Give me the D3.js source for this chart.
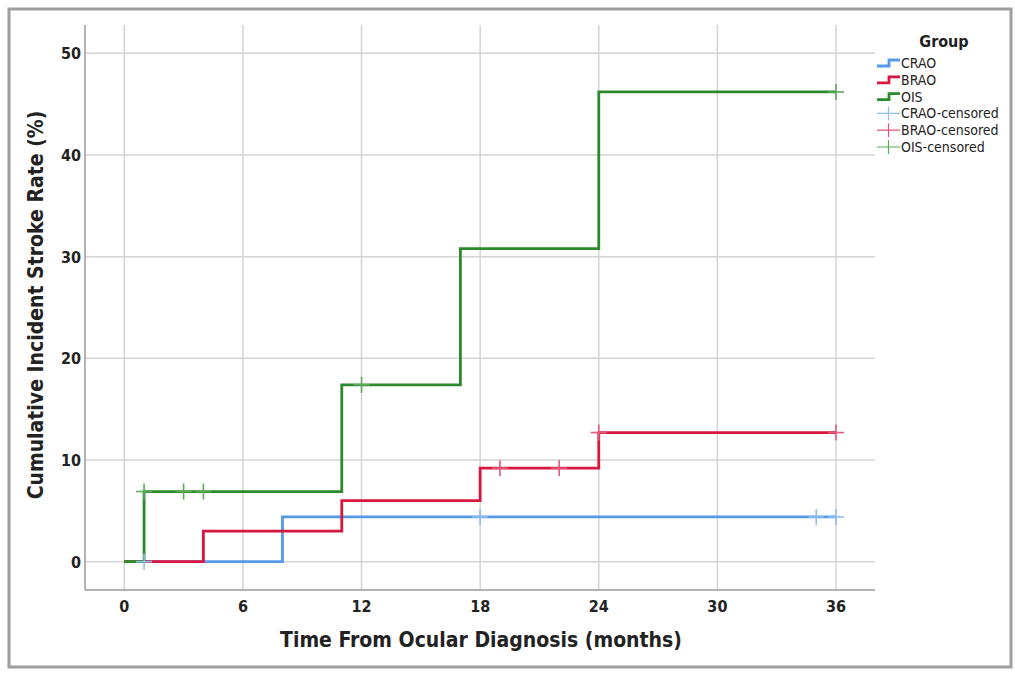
<!DOCTYPE html>
<html>
<head>
<meta charset="utf-8">
<script src="https://cdn.jsdelivr.net/npm/d3@7"></script>
<style>
  body { margin: 0; background: #fff; }
  text { font-family: "DejaVu Sans Condensed", "DejaVu Sans", sans-serif; }
</style>
</head>
<body>
<div id="chart"></div>
<script>
// step data (months, cumulative %)
const craoTimes = [0, 8, 36];
const craoRates = [0, 4.4, 4.4];
const braoTimes = [0, 4, 11, 18, 24, 36];
const braoRates = [0, 3.0, 6.0, 9.2, 12.7, 12.7];
const oisTimes = [0, 1, 11, 17, 24, 36];
const oisRates = [0, 6.9, 17.4, 30.8, 46.2, 46.2];

// censored observations
const craoCensored = [1, 18, 35, 36];
const braoCensored = [19, 22, 24, 36];
const oisCensored = [1, 3, 4, 12, 36];

const xTicks = [0, 6, 12, 18, 24, 30, 36];
const yTicks = [0, 10, 20, 30, 40, 50];

const groups = [
  {name: "CRAO", times: craoTimes, rates: craoRates, cens: craoCensored, color: "#5599e8", light: "#8fbcf0"},
  {name: "BRAO", times: braoTimes, rates: braoRates, cens: braoCensored, color: "#d8173f", light: "#e4587a"},
  {name: "OIS", times: oisTimes, rates: oisRates, cens: oisCensored, color: "#2b8a2b", light: "#5aab5a"}
];

const width = 1015, height = 673;
const plot = {left: 85, right: 875, top: 25, bottom: 590};

let svg = d3.select("#chart").append("svg")
  .attr("width", width)
  .attr("height", height);

// outer frame
svg.append("rect")
  .attr("x", 9).attr("y", 9)
  .attr("width", 1002).attr("height", 658)
  .attr("fill", "none")
  .attr("stroke", "#9e9e9e")
  .attr("stroke-width", 3);

let x = d3.scaleLinear().domain([0, 36]).range([124.3, 836]);
let y = d3.scaleLinear().domain([0, 50]).range([561.7, 53.3]);

// grid
svg.append("g").selectAll("line")
  .data(yTicks)
  .enter().append("line")
  .attr("x1", plot.left).attr("x2", plot.right)
  .attr("y1", d => y(d)).attr("y2", d => y(d))
  .attr("stroke", "#d4d4d4").attr("stroke-width", 1.5);

svg.append("g").selectAll("line")
  .data(xTicks)
  .enter().append("line")
  .attr("x1", d => x(d)).attr("x2", d => x(d))
  .attr("y1", plot.top).attr("y2", plot.bottom)
  .attr("stroke", "#d4d4d4").attr("stroke-width", 1.5);

// axes lines
svg.append("line")
  .attr("x1", plot.left).attr("x2", plot.left)
  .attr("y1", plot.top).attr("y2", plot.bottom)
  .attr("stroke", "#9a9a9a").attr("stroke-width", 1.5);
svg.append("line")
  .attr("x1", plot.left).attr("x2", plot.right)
  .attr("y1", plot.bottom).attr("y2", plot.bottom)
  .attr("stroke", "#9a9a9a").attr("stroke-width", 1.5);

// tick labels
svg.append("g").selectAll("text")
  .data(yTicks)
  .enter().append("text")
  .text(d => d)
  .attr("x", 81).attr("y", d => y(d) + 6)
  .attr("text-anchor", "end")
  .attr("font-size", "16px").attr("font-weight", "bold")
  .attr("fill", "#222");

svg.append("g").selectAll("text")
  .data(xTicks)
  .enter().append("text")
  .text(d => d)
  .attr("x", d => x(d)).attr("y", 612)
  .attr("text-anchor", "middle")
  .attr("font-size", "16px").attr("font-weight", "bold")
  .attr("fill", "#222");

// titles
svg.append("text")
  .text("Time From Ocular Diagnosis (months)")
  .attr("x", 481).attr("y", 647)
  .attr("text-anchor", "middle")
  .attr("font-size", "21px").attr("font-weight", "bold")
  .attr("fill", "#222");

svg.append("text")
  .text("Cumulative Incident Stroke Rate (%)")
  .attr("x", 0).attr("y", 0)
  .attr("transform", "translate(43,305) rotate(-90)")
  .attr("text-anchor", "middle")
  .attr("font-size", "21px").attr("font-weight", "bold")
  .attr("fill", "#222");

// step curves
let stepLine = d3.line()
  .x(d => x(d[0]))
  .y(d => y(d[1]))
  .curve(d3.curveStepAfter);

function rateAt(g, t) {
  let r = 0;
  for (let i = 0; i < g.times.length; i++) {
    if (g.times[i] <= t) r = g.rates[i];
  }
  return r;
}

groups.forEach(function(g) {
  let pts = g.times.map((t, i) => [t, g.rates[i]]);
  svg.append("path")
    .attr("d", stepLine(pts))
    .attr("fill", "none")
    .attr("stroke", g.color)
    .attr("stroke-width", 2.8);
});

groups.forEach(function(g) {
  let marks = svg.append("g").selectAll("g")
    .data(g.cens)
    .enter().append("g")
    .attr("transform", d => "translate(" + x(d) + "," + y(rateAt(g, d)) + ")");
  marks.append("line")
    .attr("x1", 0).attr("x2", 0).attr("y1", -8).attr("y2", 8)
    .attr("stroke", g.light).attr("stroke-width", 1.6);
  marks.append("line")
    .attr("x1", -8).attr("x2", 8).attr("y1", 0).attr("y2", 0)
    .attr("stroke", g.light).attr("stroke-width", 1.6);
});

// legend
svg.append("text")
  .text("Group")
  .attr("x", 944).attr("y", 47)
  .attr("text-anchor", "middle")
  .attr("font-size", "16px").attr("font-weight", "bold")
  .attr("fill", "#222");

let legendRows = [];
groups.forEach(g => legendRows.push({label: g.name, color: g.color, censored: false}));
groups.forEach(g => legendRows.push({label: g.name + "-censored", color: g.light, censored: true}));

let rows = svg.append("g").selectAll("g")
  .data(legendRows)
  .enter().append("g")
  .attr("transform", (d, i) => "translate(877," + (63 + i * 16.8) + ")");

rows.filter(d => !d.censored).append("path")
  .attr("d", "M0,3 H12 V-3 H23")
  .attr("fill", "none")
  .attr("stroke", d => d.color)
  .attr("stroke-width", 2.8);

rows.filter(d => d.censored).append("path")
  .attr("d", "M0,0 H23 M11.5,-7 V7")
  .attr("fill", "none")
  .attr("stroke", d => d.color)
  .attr("stroke-width", 1.2);

rows.append("text")
  .text(d => d.label)
  .attr("x", 24).attr("y", 5)
  .attr("font-size", "14px")
  .attr("fill", "#222");
</script>
</body>
</html>
